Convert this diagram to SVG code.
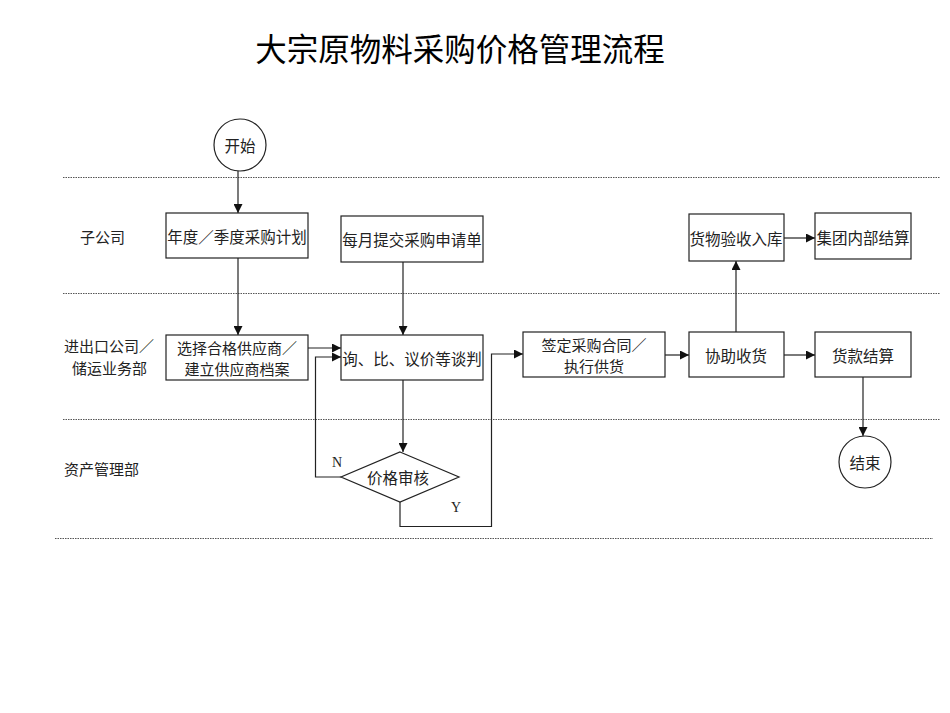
<svg xmlns="http://www.w3.org/2000/svg" width="950" height="713" viewBox="0 0 950 713">
<style>
.bg{fill:#fff}
.box{fill:#fff;stroke:#222;stroke-width:1.2}
.lane{stroke:#555;stroke-width:1;stroke-dasharray:1.5 1;fill:none}
.t{font-family:"Noto Sans CJK SC","Noto Sans",sans-serif;font-size:15.5px;fill:#222;text-anchor:middle;dominant-baseline:central}
.t2{font-family:"Noto Sans CJK SC","Noto Sans",sans-serif;font-size:15px;fill:#222;text-anchor:middle;dominant-baseline:central}
.lbl{font-family:"Noto Sans CJK SC","Noto Sans",sans-serif;font-size:15px;fill:#222}
.yn{font-family:"Liberation Serif",serif;font-size:14px;fill:#222}
.c{stroke:#222;stroke-width:1.2;fill:none}
.title{font-family:"Noto Sans CJK SC","Noto Sans",sans-serif;font-size:31.5px;fill:#000;text-anchor:middle}
</style>
<defs>
<marker id="a" viewBox="0 0 10 10" refX="10" refY="5" markerWidth="9" markerHeight="9" markerUnits="userSpaceOnUse" orient="auto">
<path d="M0,0 L10,5 L0,10 z" fill="#111"/>
</marker>
</defs>
<rect class="bg" x="0" y="0" width="950" height="713"/>
<text class="title" x="460" y="61">大宗原物料采购价格管理流程</text>

<g id="lanes">
<line class="lane" x1="63" y1="177.5" x2="940" y2="177.5"/>
<line class="lane" x1="63" y1="293.5" x2="940" y2="293.5"/>
<line class="lane" x1="63" y1="419.5" x2="940" y2="419.5"/>
<line class="lane" x1="55" y1="538.5" x2="933" y2="538.5"/>
<text class="lbl" x="80" y="243">子公司</text>
<text class="lbl" x="64" y="352">进出口公司／</text>
<text class="lbl" x="72" y="374">储运业务部</text>
<text class="lbl" x="64" y="475">资产管理部</text>
</g>

<g id="connectors">
<line class="c" x1="238" y1="171" x2="238" y2="213" marker-end="url(#a)"/>
<line class="c" x1="238" y1="258" x2="238" y2="335" marker-end="url(#a)"/>
<line class="c" x1="403" y1="262" x2="403" y2="335" marker-end="url(#a)"/>
<line class="c" x1="308" y1="348" x2="341" y2="348" marker-end="url(#a)"/>
<line class="c" x1="403" y1="380" x2="403" y2="452" marker-end="url(#a)"/>
<polyline class="c" points="341,477 315.5,477 315.5,357 341,357" marker-end="url(#a)"/>
<polyline class="c" points="400,502 400,526.5 491.5,526.5 491.5,354 523,354" marker-end="url(#a)"/>
<line class="c" x1="665" y1="355" x2="689" y2="355" marker-end="url(#a)"/>
<line class="c" x1="784" y1="355" x2="815" y2="355" marker-end="url(#a)"/>
<line class="c" x1="736" y1="332" x2="736" y2="261" marker-end="url(#a)"/>
<line class="c" x1="784" y1="238" x2="815" y2="238" marker-end="url(#a)"/>
<line class="c" x1="863" y1="377" x2="863" y2="436" marker-end="url(#a)"/>
<text class="yn" x="332" y="467">N</text>
<text class="yn" x="451" y="512">Y</text>
</g>

<g id="start">
<circle class="box" cx="240" cy="145" r="26"/>
<text class="t" x="240" y="145">开始</text>
</g>
<g id="annual-plan">
<rect class="box" x="166" y="213" width="142" height="45"/>
<text class="t" x="237" y="236">年度／季度采购计划</text>
</g>
<g id="monthly-request">
<rect class="box" x="341" y="216" width="142" height="46"/>
<text class="t" x="412" y="239">每月提交采购申请单</text>
</g>
<g id="select-supplier">
<rect class="box" x="166" y="335" width="142" height="45"/>
<text class="t2" x="237" y="347">选择合格供应商／</text>
<text class="t2" x="237" y="368">建立供应商档案</text>
</g>
<g id="negotiate">
<rect class="box" x="341" y="335" width="142" height="45"/>
<text class="t" x="412" y="358">询、比、议价等谈判</text>
</g>
<g id="price-review">
<polygon class="box" points="400,452 459,477 400,502 341,477"/>
<text class="t" x="398" y="477">价格审核</text>
</g>
<g id="sign-contract">
<rect class="box" x="523" y="332" width="142" height="45"/>
<text class="t2" x="594" y="344">签定采购合同／</text>
<text class="t2" x="594" y="365">执行供货</text>
</g>
<g id="assist-receive">
<rect class="box" x="689" y="332" width="95" height="45"/>
<text class="t" x="736" y="355">协助收货</text>
</g>
<g id="payment">
<rect class="box" x="815" y="332" width="96" height="45"/>
<text class="t" x="863" y="355">货款结算</text>
</g>
<g id="inspect-store">
<rect class="box" x="689" y="214" width="95" height="47"/>
<text class="t" x="736" y="238">货物验收入库</text>
</g>
<g id="group-settle">
<rect class="box" x="815" y="213" width="96" height="46"/>
<text class="t" x="863" y="237">集团内部结算</text>
</g>
<g id="end">
<circle class="box" cx="865" cy="462" r="26"/>
<text class="t" x="865" y="462">结束</text>
</g>
</svg>
